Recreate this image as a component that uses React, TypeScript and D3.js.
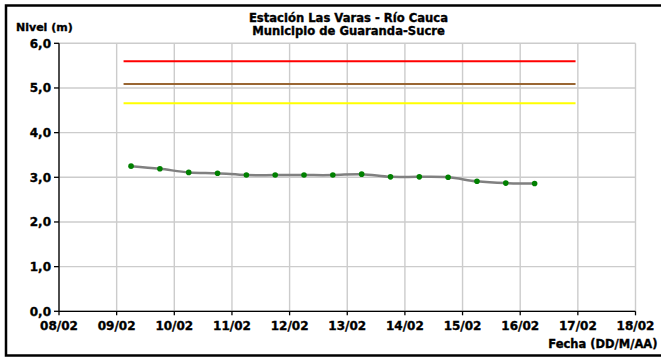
import React from "react";
import * as d3 from "d3";

const xTickLabels = ["08/02", "09/02", "10/02", "11/02", "12/02", "13/02", "14/02", "15/02", "16/02", "17/02", "18/02"];
const xTickDays = [8, 9, 10, 11, 12, 13, 14, 15, 16, 17, 18];
const yTicks = [0, 1, 2, 3, 4, 5, 6];
const yTickLabels = ["0,0", "1,0", "2,0", "3,0", "4,0", "5,0", "6,0"];

// Observation times in days of February (06:00 and 18:00 each day)
const obsDays = [9.25, 9.75, 10.25, 10.75, 11.25, 11.75, 12.25, 12.75, 13.25, 13.75, 14.25, 14.75, 15.25, 15.75, 16.25];
const levels = [3.25, 3.19, 3.11, 3.09, 3.05, 3.05, 3.05, 3.05, 3.07, 3.01, 3.01, 3.0, 2.91, 2.87, 2.86];

// Alert thresholds
const thresholdStart = 9.12;
const thresholdEnd = 16.96;
const thresholdValues = [5.6, 5.09, 4.66];
const thresholdColors = ["#ff0000", "#996633", "#ffff00"];

const titleLines = ["Estación Las Varas - Río Cauca", "Municipio de Guaranda-Sucre"];

export default function App() {
  const W = 661;
  const H = 358;
  const x = d3.scaleLinear().domain([8, 18]).range([59, 635.5]);
  const y = d3.scaleLinear().domain([0, 6]).range([311.3, 43.3]);

  const line = d3
    .line<number>()
    .x((_, i) => x(obsDays[i]))
    .y((d) => y(d))
    .curve(d3.curveCardinal.tension(0));

  const font = "'DejaVu Sans', Arial, sans-serif";
  const heavy = { stroke: "#000", strokeWidth: 0.35 };

  return (
    <svg
      width={W}
      height={H}
      viewBox={`0 0 ${W} ${H}`}
      style={{ position: "absolute", left: 0, top: 0, background: "#fff" }}
    >
      <rect x={0} y={0} width={W} height={H} fill="#fff" />
      {/* outer border */}
      <rect x={6} y={5.5} width={720} height={350} fill="none" stroke="#000" strokeWidth={2.5} />

      {/* grid */}
      {yTicks.map((t) => (
        <line key={"hg" + t} x1={x(8)} x2={x(18)} y1={y(t)} y2={y(t)} stroke="#cccccc" strokeWidth={1.4} />
      ))}
      {xTickDays.map((d) => (
        <line key={"vg" + d} x1={x(d)} x2={x(d)} y1={y(0)} y2={y(6)} stroke="#cccccc" strokeWidth={1.4} />
      ))}

      {/* thresholds */}
      {thresholdValues.map((v, i) => (
        <line
          key={"th" + i}
          x1={x(thresholdStart)}
          x2={x(thresholdEnd)}
          y1={y(v)}
          y2={y(v)}
          stroke={thresholdColors[i]}
          strokeWidth={2}
        />
      ))}

      {/* series */}
      <path d={line(levels) || ""} fill="none" stroke="#808080" strokeWidth={2.5} />
      {levels.map((v, i) => (
        <circle key={"p" + i} cx={x(obsDays[i])} cy={y(v)} r={2.8} fill="#008000" />
      ))}

      {/* axes */}
      <line x1={x(8)} x2={x(8)} y1={y(0)} y2={y(6)} stroke="#000" strokeWidth={1.3} />
      <line x1={x(8)} x2={x(18)} y1={y(0)} y2={y(0)} stroke="#000" strokeWidth={1.3} />
      {yTicks.map((t, i) => (
        <g key={"yt" + t}>
          <line x1={x(8) - 5} x2={x(8)} y1={y(t)} y2={y(t)} stroke="#000" strokeWidth={1.3} />
          <text
            x={51}
            y={y(t) + 4.3}
            textAnchor="end"
            fontFamily={font}
            fontWeight="bold"
            fontSize={12}
            fill="#000"
            {...heavy}
          >
            {yTickLabels[i]}
          </text>
        </g>
      ))}
      {xTickDays.map((d, i) => (
        <g key={"xt" + d}>
          <line x1={x(d)} x2={x(d)} y1={y(0)} y2={y(0) + 4} stroke="#000" strokeWidth={1.3} />
          <text
            x={x(d)}
            y={330}
            textAnchor="middle"
            fontFamily={font}
            fontWeight="bold"
            fontSize={12}
            fill="#000"
            {...heavy}
          >
            {xTickLabels[i]}
          </text>
        </g>
      ))}

      {/* titles */}
      <text x={348.5} y={22} textAnchor="middle" fontFamily={font} fontWeight="bold" fontSize={11.6} fill="#000" {...heavy}>
        {titleLines[0]}
      </text>
      <text x={348.5} y={35} textAnchor="middle" fontFamily={font} fontWeight="bold" fontSize={11.6} fill="#000" {...heavy}>
        {titleLines[1]}
      </text>
      <text x={16} y={30.5} fontFamily={font} fontWeight="bold" fontSize={11} fill="#000" {...heavy}>
        Nivel (m)
      </text>
      <text x={657.5} y={348} textAnchor="end" fontFamily={font} fontWeight="bold" fontSize={11.5} fill="#000" {...heavy}>
        Fecha (DD/M/AA)
      </text>
    </svg>
  );
}
